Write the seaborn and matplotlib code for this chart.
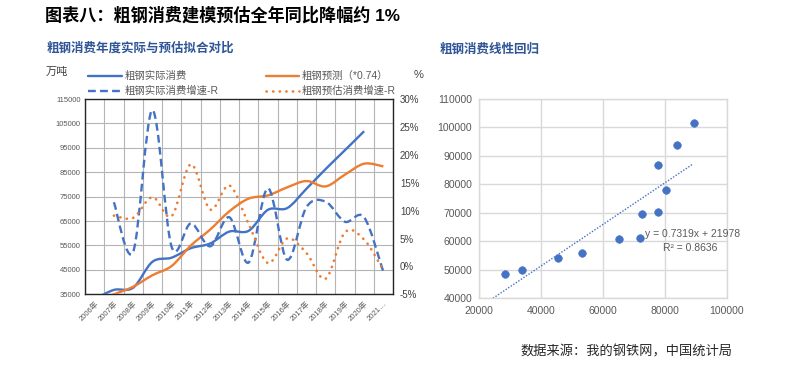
import matplotlib as mpl
mpl.use('Agg')
import matplotlib.pyplot as plt
from matplotlib.path import Path
from matplotlib.patches import PathPatch
from matplotlib.lines import Line2D
from matplotlib.ticker import FuncFormatter
import seaborn as sns
import numpy as np

# data
years = ['2006年', '2007年', '2008年', '2009年', '2010年', '2011年', '2012年', '2013年',
         '2014年', '2015年', '2016年', '2017年', '2018年', '2019年', '2020年', '2021…']
actual = [33000, 36800, 37700, 48300, 50000, 53900, 55800, 60700,
          61000, 69600, 70300, 78200, 86300, 94000, 101800, np.nan]
predict = [32100, 35000, 38100, 42800, 46600, 55000, 61500, 69000,
           74200, 75500, 78800, 81400, 79200, 84000, 88500, 87400]
actual_growth = [np.nan, 11.5, 2.6, 28.0, 3.5, 7.7, 3.6, 8.8,
                 0.7, 14.0, 1.2, 10.6, 11.6, 8.0, 8.8, -1.0]
predict_growth = [np.nan, 9.1, 8.7, 12.4, 9.0, 18.3, 10.2, 14.5,
                  7.6, 0.6, 5.0, 2.4, -2.2, 6.1, 4.8, -0.7]

reg_x = [28400, 33900, 45500, 53200, 65300, 71900, 72500, 77900, 80300, 77600, 83800, 89300]
reg_y = [48300, 50000, 53900, 55800, 60700, 61000, 69600, 70300, 78000, 86700, 93700, 101500]
slope, intercept, r2 = 0.7319, 21978, 0.8636
trend_x = [24500, 89000]

BLUE = '#4472C4'
ORANGE = '#ED7D31'
GREY = '#595959'
TITLE_BLUE = '#2F5597'

sns.set_style('white')
plt.rcParams['font.family'] = ['Liberation Sans', 'Noto Sans CJK SC', 'DejaVu Sans']


def smooth_line(ax, x, y, **kw):
    '''Excel-like smoothed line, drawn as a bezier path through the points.'''
    x = np.asarray(x, float)
    y = np.asarray(y, float)
    ok = ~np.isnan(y)
    pts = np.column_stack([x[ok], y[ok]])
    n = len(pts)
    verts = [pts[0]]
    codes = [Path.MOVETO]
    for i in range(n - 1):
        p0 = pts[max(i - 1, 0)]
        p1, p2 = pts[i], pts[i + 1]
        p3 = pts[min(i + 2, n - 1)]
        verts += [p1 + (p2 - p0) / 6, p2 - (p3 - p1) / 6, p2]
        codes += [Path.CURVE4] * 3
    patch = PathPatch(Path(verts, codes), fill=False, **kw)
    ax.add_patch(patch)
    return patch


fig = plt.figure(figsize=(8.09, 3.76), dpi=100)

# ---- left chart: actual vs predicted
ax = fig.add_axes([85 / 809, 1 - 294.3 / 376, 308 / 809, 195.3 / 376])
xs = np.arange(len(years))
ax.set_xlim(-0.5, len(years) - 0.5)
ax.set_ylim(35000, 115000)
ax.set_yticks(range(35000, 115001, 10000))
ax.set_xticks(xs)
ax.set_xticks(np.arange(-0.5, len(years), 1), minor=True)
ax.set_xticklabels(years, rotation=45, ha='right', rotation_mode='anchor',
                   fontsize=5.5, color=GREY)
ax.tick_params(axis='y', labelsize=5.5, labelcolor=GREY, length=0, pad=3)
ax.tick_params(axis='x', which='major', length=0, pad=4)
ax.tick_params(axis='x', which='minor', length=3, color='#404040')
ax.grid(True, axis='y', color='#b5b5b5', lw=0.8)
ax.grid(True, axis='x', which='minor', color='#b5b5b5', lw=0.8)
for s in ax.spines.values():
    s.set_color('#262626')
    s.set_linewidth(1.0)

smooth_line(ax, xs, actual, edgecolor=BLUE, lw=1.7, zorder=3)
smooth_line(ax, xs, predict, edgecolor=ORANGE, lw=1.7, zorder=3)

axr = ax.twinx()
axr.set_ylim(-5, 30)
axr.set_yticks(range(-5, 31, 5))
axr.yaxis.set_major_formatter(FuncFormatter(lambda v, p: '%d%%' % v))
axr.tick_params(axis='y', labelsize=7, labelcolor='#404040', length=0, pad=5)
for s in axr.spines.values():
    s.set_visible(False)
p = smooth_line(axr, xs, actual_growth, edgecolor=BLUE, lw=1.7,
                linestyle=(0, (3.3, 1.8)), zorder=4)
p = smooth_line(axr, xs, predict_growth, edgecolor=ORANGE, lw=1.9,
                linestyle=(0, (0.1, 2.4)), zorder=4)
p.set_capstyle('round')

handles = [
    Line2D([], [], color=BLUE, lw=1.7),
    Line2D([], [], color=BLUE, lw=1.7, linestyle=(0, (3.3, 1.8))),
    Line2D([], [], color=ORANGE, lw=1.7),
    Line2D([], [], color=ORANGE, lw=1.9, linestyle=(0, (0.1, 2.4)), dash_capstyle='round'),
]
labels = ['粗钢实际消费', '粗钢实际消费增速-R', '粗钢预测（*0.74）', '粗钢预估消费增速-R']
fig.legend(handles, labels, ncol=2, loc='upper left', bbox_to_anchor=(83 / 809, 1 - 66 / 376),
           frameon=False, fontsize=7.5, handlelength=3.2, handletextpad=0.25,
           columnspacing=4.6, labelspacing=0.45, borderpad=0, labelcolor=GREY)

fig.text(46 / 809, 1 - 72 / 376, '万吨', fontsize=8, color='#404040', va='center')
fig.text(414 / 809, 1 - 75 / 376, '%', fontsize=8, color='#404040', va='center')

# ---- right chart: linear regression
ax2 = fig.add_axes([479 / 809, 1 - 298 / 376, 248 / 809, 199 / 376])
sns.scatterplot(x=reg_x, y=reg_y, ax=ax2, color=BLUE, s=30, edgecolor=BLUE, zorder=3)
trend_y = [slope * v + intercept for v in trend_x]
ax2.plot(trend_x, trend_y, color=BLUE, lw=1.0, linestyle=(0, (1, 1.2)), zorder=2)
ax2.set_xlim(20000, 100000)
ax2.set_ylim(40000, 110000)
ax2.set_xticks(range(20000, 100001, 20000))
ax2.set_yticks(range(40000, 110001, 10000))
ax2.tick_params(labelsize=7.5, labelcolor=GREY, length=0)
ax2.tick_params(axis='x', pad=6)
ax2.tick_params(axis='y', pad=5)
ax2.grid(True, color='#d9d9d9', lw=1.0)
for s in ax2.spines.values():
    s.set_color('#d9d9d9')
    s.set_linewidth(1.0)
ax2.text(0.669, 0.322, 'y = %.4fx + %d' % (slope, intercept), transform=ax2.transAxes,
         fontsize=7.5, color=GREY, va='center')
ax2.text(0.742, 0.251, 'R² = %.4f' % r2, transform=ax2.transAxes,
         fontsize=7.5, color=GREY, va='center')

# ---- titles and source
fig.text(45 / 809, 1 - 15 / 376, '图表八：粗钢消费建模预估全年同比降幅约 1%',
         fontsize=12.3, fontweight='heavy', color='black', va='center')
fig.text(47 / 809, 1 - 48 / 376, '粗钢消费年度实际与预估拟合对比',
         fontsize=9, fontweight='bold', color=TITLE_BLUE, va='center')
fig.text(440 / 809, 1 - 50 / 376, '粗钢消费线性回归',
         fontsize=9, fontweight='bold', color=TITLE_BLUE, va='center')
fig.text(520 / 809, 1 - 352 / 376, '数据来源：我的钢铁网，中国统计局',
         fontsize=9.5, color='#262626', va='center')

fig.savefig('out.png', dpi=100)
